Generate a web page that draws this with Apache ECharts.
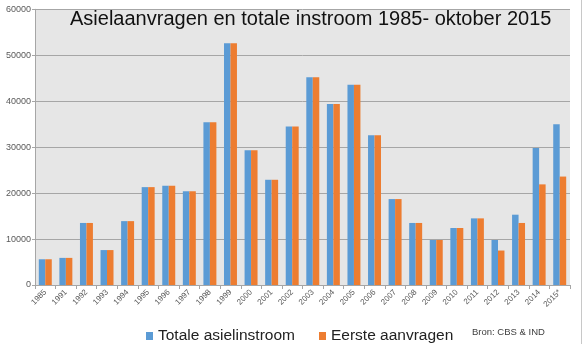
<!DOCTYPE html>
<html>
<head>
<meta charset="utf-8">
<script src="https://cdn.jsdelivr.net/npm/echarts@6/dist/echarts.min.js"></script>
<style>html,body{margin:0;padding:0;background:#fff;}#c{width:584px;height:344px;}</style>
</head>
<body>
<div id="c"></div>
<script>
const categories = ['1985','1991','1992','1993','1994','1995','1996','1997','1998','1999','2000','2001','2002','2003','2004','2005','2006','2007','2008','2009','2010','2011','2012','2013','2014','2015*'];
const totaleAsielinstroom = [5600,5900,13500,7600,13900,21300,21600,20400,35400,52600,29300,22900,34500,45200,39400,43600,32600,18700,13500,9800,12400,14500,9800,15300,29800,35000];
const eersteAanvragen = [5600,5900,13500,7600,13900,21300,21600,20400,35400,52600,29300,22900,34500,45200,39400,43600,32600,18700,13500,9800,12400,14500,7500,13500,21900,23600];
const yTicks = {min:0, max:60000, interval:10000};
const seriesNames = ['Totale asielinstroom','Eerste aanvragen'];
const titleText = 'Asielaanvragen en totale instroom 1985- oktober 2015';
const sourceText = 'Bron: CBS & IND';

const chart = echarts.init(document.getElementById('c'), null, {renderer:'canvas'});
const font = '"Liberation Sans", Arial, sans-serif';
chart.setOption({
  animation:false,
  backgroundColor:'#ffffff',
  textStyle:{fontFamily:font},
  grid:{left:35,right:14,top:9.3,bottom:59,show:true,backgroundColor:'#e6e6e6',borderWidth:0},
  title:{text:titleText,left:65,top:4,textStyle:{fontFamily:font,fontSize:20,fontWeight:'normal',color:'#111'}},
  legend:{
    data:seriesNames,left:141,top:323,icon:'rect',itemWidth:7,itemHeight:8,itemGap:24,
    textStyle:{fontFamily:font,fontSize:15.5,color:'#222'}
  },
  graphic:[
    {type:'text',left:472,top:327,style:{text:sourceText,fontFamily:font,fontSize:9.5,fill:'#404040'}},
    {type:'line',shape:{x1:581.5,y1:0,x2:581.5,y2:344},style:{stroke:'#c8c8c8',lineWidth:1}}
  ],
  xAxis:{
    type:'category',data:categories,
    axisLine:{show:true,lineStyle:{color:'#a6a6a6'}},
    axisTick:{show:true,length:4,lineStyle:{color:'#a6a6a6'}},
    axisLabel:{interval:0,rotate:45,fontSize:8,color:'#595959',margin:6,fontFamily:font}
  },
  yAxis:{
    type:'value',min:yTicks.min,max:yTicks.max,interval:yTicks.interval,
    axisLine:{show:true,lineStyle:{color:'#a6a6a6'}},
    axisTick:{show:true,length:3,lineStyle:{color:'#a6a6a6'}},
    splitLine:{lineStyle:{color:'#a6a6a6'}},
    axisLabel:{fontSize:9,color:'#595959',margin:4,fontFamily:font,formatter:function(v){return String(v);}}
  },
  series:[
    {name:seriesNames[0],type:'bar',data:totaleAsielinstroom,barGap:'0%',barCategoryGap:'37%',itemStyle:{color:'#5b9bd5'}},
    {name:seriesNames[1],type:'bar',data:eersteAanvragen,itemStyle:{color:'#ed7d31'}}
  ]
});
</script>
</body>
</html>
